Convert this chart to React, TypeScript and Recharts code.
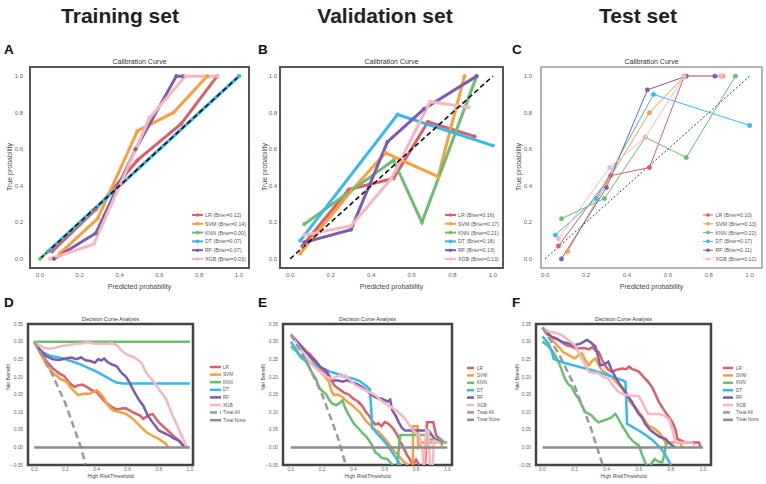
import React from 'react'
import { LineChart, Line, XAxis, YAxis, ReferenceArea } from 'recharts'

type Pt = [number, number]

const FONT = "'Liberation Sans', Arial, sans-serif"

const MODELS = ['LR', 'SVM', 'KNN', 'DT', 'RF', 'XGB']
const MODEL_COLORS = ['#d9606a', '#f7a03f', '#6bbd72', '#38b8ee', '#7a5cb0', '#f7b7c1']
const TREAT_ALL_COLOR = '#9a9a9a'
const TREAT_NONE_COLOR = '#8c8c8c'

const CAL_TICKS = [0, 0.2, 0.4, 0.6, 0.8, 1.0]
const DCA_X_TICKS = [0, 0.2, 0.4, 0.6, 0.8, 1.0]
const DCA_Y_TICKS = [-0.05, 0, 0.05, 0.1, 0.15, 0.2, 0.25, 0.3, 0.35]

const DIAGONAL: Pt[] = [[0, 0], [1, 1]]
const TREAT_NONE: Pt[] = [[0, 0], [1, 0]]

// ---- calibration curves: training
const trainBrier = ['0.12', '0.14', '0.00', '0.07', '0.07', '0.03']
const calTrainLR: Pt[] = [[0.06, 0.04], [0.28, 0.27], [0.49, 0.54], [0.71, 0.74], [0.89, 1.0]]
const calTrainSVM: Pt[] = [[0.1, 0.03], [0.29, 0.22], [0.49, 0.7], [0.67, 0.8], [0.84, 1.0]]
const calTrainKNN: Pt[] = [[0, 0], [1, 1]]
const calTrainDT: Pt[] = [[0.04, 0.04], [1, 1]]
const calTrainRF: Pt[] = [[0.07, 0.0], [0.28, 0.14], [0.48, 0.6], [0.685, 1.0], [0.72, 1.0]]
const calTrainXGB: Pt[] = [[0.05, 0.0], [0.27, 0.08], [0.55, 0.77], [0.73, 1.0], [0.89, 1.0]]

// ---- calibration curves: validation
const validBrier = ['0.16', '0.17', '0.21', '0.18', '0.13', '0.13']
const calValidLR: Pt[] = [[0.06, 0.07], [0.29, 0.38], [0.51, 0.44], [0.68, 0.75], [0.91, 0.67]]
const calValidSVM: Pt[] = [[0.05, 0.03], [0.3, 0.37], [0.47, 0.58], [0.73, 0.45], [0.86, 1.0]]
const calValidKNN: Pt[] = [[0.07, 0.19], [0.51, 0.54], [0.65, 0.2], [0.92, 1.0]]
const calValidDT: Pt[] = [[0.05, 0.1], [0.53, 0.79], [1.0, 0.62]]
const calValidRF: Pt[] = [[0.07, 0.09], [0.3, 0.16], [0.48, 0.64], [0.66, 0.82], [0.92, 1.0]]
const calValidXGB: Pt[] = [[0.07, 0.13], [0.3, 0.18], [0.5, 0.44], [0.69, 0.86], [0.88, 0.83]]

// ---- calibration curves: test
const testBrier = ['0.10', '0.13', '0.22', '0.17', '0.11', '0.12']
const calTestLR: Pt[] = [[0.065, 0.07], [0.32, 0.455], [0.51, 0.5], [0.68, 1.0], [0.86, 1.0]]
const calTestSVM: Pt[] = [[0.11, 0.04], [0.3, 0.415], [0.51, 0.8], [0.68, 1.0], [0.87, 1.0]]
const calTestKNN: Pt[] = [[0.08, 0.22], [0.29, 0.33], [0.49, 0.665], [0.69, 0.555], [0.93, 1.0]]
const calTestDT: Pt[] = [[0.05, 0.13], [0.25, 0.33], [0.53, 0.9], [1.0, 0.73]]
const calTestRF: Pt[] = [[0.08, 0.0], [0.3, 0.39], [0.5, 0.925], [0.69, 1.0], [0.83, 1.0]]
const calTestXGB: Pt[] = [[0.065, 0.11], [0.315, 0.5], [0.49, 0.665], [0.68, 1.0], [0.86, 1.0]]

// ---- decision curves: training
const dcaTrainLR: Pt[] = [[0, 0.3], [0.04, 0.271], [0.08, 0.243], [0.12, 0.224], [0.16, 0.21], [0.19, 0.203], [0.23, 0.181], [0.26, 0.171], [0.28, 0.176], [0.31, 0.178], [0.34, 0.171], [0.37, 0.162], [0.4, 0.157], [0.43, 0.142], [0.46, 0.127], [0.5, 0.114], [0.53, 0.107], [0.56, 0.11], [0.59, 0.111], [0.62, 0.103], [0.655, 0.095], [0.68, 0.09], [0.7, 0.081], [0.73, 0.09], [0.76, 0.095], [0.78, 0.083], [0.8, 0.071], [0.84, 0.055], [0.87, 0.043], [0.9, 0.03], [0.93, 0.019], [0.964, 0.003]]
const dcaTrainSVM: Pt[] = [[0, 0.3], [0.038, 0.267], [0.081, 0.233], [0.123, 0.21], [0.166, 0.195], [0.209, 0.186], [0.23, 0.172], [0.251, 0.162], [0.283, 0.148], [0.315, 0.152], [0.357, 0.152], [0.4, 0.162], [0.42, 0.155], [0.443, 0.143], [0.474, 0.119], [0.506, 0.105], [0.549, 0.1], [0.59, 0.095], [0.634, 0.081], [0.677, 0.062], [0.72, 0.043], [0.76, 0.033], [0.8, 0.024], [0.847, 0.01], [0.86, 0.0]]
const dcaTrainKNN: Pt[] = [[0, 0.3], [1.0, 0.3]]
const dcaTrainDT: Pt[] = [[0, 0.3], [0.03, 0.28], [0.06, 0.268], [0.1, 0.26], [0.15, 0.256], [0.2, 0.25], [0.25, 0.243], [0.3, 0.235], [0.35, 0.225], [0.4, 0.215], [0.45, 0.203], [0.5, 0.19], [0.53, 0.184], [0.57, 0.181], [0.6, 0.181], [1.0, 0.181]]
const dcaTrainRF: Pt[] = [[0, 0.3], [0.04, 0.275], [0.08, 0.258], [0.12, 0.25], [0.16, 0.248], [0.2, 0.252], [0.24, 0.255], [0.27, 0.25], [0.3, 0.255], [0.33, 0.247], [0.36, 0.245], [0.39, 0.24], [0.41, 0.25], [0.43, 0.247], [0.45, 0.252], [0.47, 0.242], [0.5, 0.235], [0.53, 0.23], [0.56, 0.212], [0.59, 0.2], [0.61, 0.186], [0.63, 0.168], [0.655, 0.148], [0.68, 0.13], [0.7, 0.119], [0.73, 0.09], [0.76, 0.071], [0.8, 0.048], [0.84, 0.04], [0.87, 0.033], [0.9, 0.025], [0.93, 0.019], [0.96, 0.003]]
const dcaTrainXGB: Pt[] = [[0, 0.3], [0.03, 0.29], [0.06, 0.283], [0.1, 0.28], [0.14, 0.283], [0.18, 0.288], [0.22, 0.29], [0.26, 0.293], [0.3, 0.295], [0.34, 0.298], [0.38, 0.295], [0.42, 0.294], [0.46, 0.293], [0.5, 0.295], [0.53, 0.29], [0.56, 0.275], [0.6, 0.262], [0.63, 0.258], [0.66, 0.25], [0.69, 0.24], [0.71, 0.22], [0.73, 0.205], [0.76, 0.19], [0.78, 0.18], [0.8, 0.165], [0.83, 0.148], [0.85, 0.135], [0.87, 0.11], [0.89, 0.09], [0.91, 0.07], [0.93, 0.05], [0.95, 0.03], [0.97, 0.012], [0.98, 0.0]]
const dcaTrainAll: Pt[] = [[0, 0.3], [0.1, 0.222], [0.2, 0.125], [0.3, 0.0], [0.33, -0.048]]

// ---- decision curves: validation
const dcaValidLR: Pt[] = [[0, 0.32], [0.04, 0.3], [0.08, 0.28], [0.12, 0.265], [0.16, 0.245], [0.2, 0.22], [0.23, 0.21], [0.26, 0.19], [0.28, 0.175], [0.31, 0.165], [0.34, 0.155], [0.37, 0.15], [0.4, 0.138], [0.43, 0.13], [0.46, 0.115], [0.48, 0.1], [0.5, 0.09], [0.52, 0.075], [0.54, 0.065], [0.56, 0.068], [0.58, 0.06], [0.6, 0.072], [0.62, 0.068], [0.64, 0.06], [0.66, 0.05], [0.68, 0.035], [0.7, 0.015], [0.72, 0.0], [0.74, -0.02], [0.755, -0.03], [0.78, -0.05], [0.8, -0.035], [0.82, -0.05], [0.84, -0.06], [0.86, -0.04], [0.87, 0.071], [0.91, 0.071], [0.93, 0.033], [0.98, 0.014]]
const dcaValidSVM: Pt[] = [[0, 0.32], [0.05, 0.295], [0.1, 0.272], [0.14, 0.245], [0.18, 0.22], [0.2, 0.21], [0.22, 0.2], [0.244, 0.186], [0.26, 0.16], [0.276, 0.148], [0.3, 0.15], [0.33, 0.143], [0.36, 0.129], [0.39, 0.12], [0.414, 0.11], [0.44, 0.1], [0.456, 0.09], [0.48, 0.075], [0.51, 0.062], [0.54, 0.05], [0.563, 0.043], [0.6, 0.025], [0.626, 0.01], [0.66, -0.01], [0.69, -0.024], [0.72, -0.04], [0.743, -0.048], [0.76, -0.06], [0.78, -0.06], [0.782, 0.06], [0.81, 0.06], [0.815, 0.0], [0.84, 0.014], [0.9, 0.014], [0.95, 0.014], [0.97, 0.005]]
const dcaValidKNN: Pt[] = [[0, 0.287], [0.03, 0.275], [0.06, 0.26], [0.096, 0.243], [0.12, 0.225], [0.138, 0.21], [0.16, 0.195], [0.18, 0.171], [0.2, 0.16], [0.223, 0.152], [0.245, 0.135], [0.265, 0.124], [0.29, 0.12], [0.31, 0.125], [0.33, 0.133], [0.345, 0.115], [0.36, 0.1], [0.38, 0.085], [0.4, 0.07], [0.414, 0.062], [0.44, 0.05], [0.46, 0.04], [0.478, 0.033], [0.5, 0.02], [0.52, 0.005], [0.54, -0.014], [0.56, -0.02], [0.58, -0.03], [0.616, -0.033], [0.64, -0.045], [0.66, -0.055], [0.68, -0.06], [0.69, 0.0], [0.7, 0.035], [0.8, 0.035], [0.87, 0.035], [0.88, 0.022], [0.95, 0.022], [0.97, 0.014], [1.0, 0.014]]
const dcaValidDT: Pt[] = [[0, 0.3], [0.03, 0.28], [0.064, 0.255], [0.1, 0.245], [0.15, 0.235], [0.2, 0.225], [0.25, 0.215], [0.3, 0.208], [0.35, 0.2], [0.4, 0.195], [0.44, 0.188], [0.48, 0.175], [0.505, 0.165], [0.515, 0.1], [0.52, 0.055], [0.55, 0.04], [0.584, 0.024], [0.62, 0.005], [0.648, -0.014], [0.68, -0.035], [0.7, -0.05], [0.72, -0.065]]
const dcaValidRF: Pt[] = [[0, 0.32], [0.03, 0.305], [0.06, 0.29], [0.096, 0.271], [0.12, 0.26], [0.14, 0.25], [0.16, 0.243], [0.19, 0.228], [0.223, 0.219], [0.25, 0.2], [0.276, 0.19], [0.3, 0.19], [0.33, 0.186], [0.36, 0.19], [0.39, 0.185], [0.42, 0.18], [0.456, 0.171], [0.49, 0.16], [0.52, 0.148], [0.55, 0.14], [0.58, 0.138], [0.605, 0.133], [0.62, 0.13], [0.635, 0.135], [0.648, 0.105], [0.67, 0.09], [0.69, 0.071], [0.71, 0.055], [0.73, 0.048], [0.8, 0.048], [0.88, 0.048], [0.9, 0.035], [0.92, 0.024], [0.95, 0.015], [0.966, 0.01]]
const dcaValidXGB: Pt[] = [[0, 0.32], [0.03, 0.3], [0.05, 0.285], [0.074, 0.271], [0.1, 0.255], [0.138, 0.233], [0.17, 0.22], [0.2, 0.21], [0.23, 0.2], [0.265, 0.195], [0.29, 0.2], [0.31, 0.205], [0.33, 0.2], [0.35, 0.205], [0.38, 0.19], [0.414, 0.176], [0.44, 0.17], [0.478, 0.162], [0.51, 0.155], [0.54, 0.148], [0.57, 0.135], [0.605, 0.124], [0.64, 0.115], [0.67, 0.105], [0.7, 0.095], [0.73, 0.081], [0.755, 0.065], [0.775, 0.052], [0.8, 0.04], [0.82, 0.033], [0.84, 0.0], [0.85, -0.06], [0.865, 0.05], [0.88, 0.045], [0.89, -0.06], [0.905, -0.06], [0.915, 0.02], [0.94, 0.015], [0.96, 0.01]]
const dcaValidAll: Pt[] = [[0, 0.32], [0.1, 0.244], [0.2, 0.15], [0.3, 0.029], [0.35, -0.048]]

// ---- decision curves: test
const dcaTestLR: Pt[] = [[0, 0.34], [0.02, 0.33], [0.0375, 0.324], [0.06, 0.31], [0.08, 0.31], [0.1, 0.305], [0.13, 0.295], [0.16, 0.288], [0.183, 0.286], [0.21, 0.28], [0.24, 0.282], [0.267, 0.281], [0.29, 0.278], [0.31, 0.285], [0.33, 0.275], [0.35, 0.271], [0.37, 0.25], [0.39, 0.233], [0.41, 0.22], [0.433, 0.214], [0.46, 0.22], [0.496, 0.224], [0.52, 0.222], [0.54, 0.229], [0.56, 0.222], [0.58, 0.219], [0.6, 0.215], [0.62, 0.205], [0.64, 0.195], [0.66, 0.185], [0.683, 0.171], [0.7, 0.155], [0.725, 0.129], [0.745, 0.115], [0.766, 0.1], [0.79, 0.085], [0.81, 0.071], [0.83, 0.05], [0.84, 0.024], [0.89, 0.014], [0.975, 0.014], [0.985, 0.0]]
const dcaTestSVM: Pt[] = [[0, 0.34], [0.0375, 0.319], [0.07, 0.3], [0.1, 0.286], [0.13, 0.27], [0.163, 0.262], [0.2, 0.252], [0.22, 0.26], [0.246, 0.267], [0.27, 0.245], [0.29, 0.233], [0.31, 0.245], [0.33, 0.252], [0.35, 0.235], [0.37, 0.219], [0.4, 0.21], [0.433, 0.2], [0.46, 0.185], [0.496, 0.167], [0.52, 0.15], [0.54, 0.133], [0.56, 0.12], [0.58, 0.114], [0.6, 0.1], [0.62, 0.09], [0.64, 0.075], [0.66, 0.062], [0.69, 0.055], [0.725, 0.043], [0.745, 0.03], [0.766, 0.014], [0.86, 0.014], [0.87, 0.0]]
const dcaTestKNN: Pt[] = [[0, 0.3], [0.03, 0.29], [0.058, 0.276], [0.08, 0.26], [0.1, 0.243], [0.12, 0.22], [0.14, 0.195], [0.16, 0.18], [0.183, 0.171], [0.2, 0.155], [0.225, 0.138], [0.245, 0.12], [0.267, 0.1], [0.29, 0.095], [0.308, 0.09], [0.33, 0.078], [0.35, 0.071], [0.38, 0.076], [0.41, 0.081], [0.43, 0.085], [0.454, 0.095], [0.475, 0.08], [0.496, 0.062], [0.52, 0.045], [0.54, 0.029], [0.57, 0.015], [0.6, 0.005], [0.62, -0.02], [0.64, -0.043], [0.66, -0.062], [0.68, -0.045], [0.7, -0.033], [0.72, -0.04], [0.746, -0.043], [0.76, -0.02], [0.77, 0.01], [0.79, 0.014]]
const dcaTestDT: Pt[] = [[0, 0.315], [0.0375, 0.295], [0.06, 0.27], [0.069, 0.252], [0.1, 0.245], [0.15, 0.238], [0.2, 0.232], [0.25, 0.226], [0.3, 0.22], [0.35, 0.213], [0.4, 0.206], [0.45, 0.198], [0.5, 0.19], [0.517, 0.186], [0.523, 0.12], [0.527, 0.067], [0.56, 0.058], [0.6, 0.048], [0.64, 0.036], [0.683, 0.022], [0.72, 0.005], [0.746, -0.008], [0.77, -0.025], [0.8, -0.05]]
const dcaTestRF: Pt[] = [[0, 0.34], [0.03, 0.322], [0.058, 0.314], [0.09, 0.308], [0.12, 0.3], [0.16, 0.295], [0.2, 0.29], [0.24, 0.295], [0.277, 0.305], [0.3, 0.298], [0.33, 0.286], [0.345, 0.26], [0.36, 0.233], [0.385, 0.235], [0.41, 0.243], [0.43, 0.22], [0.454, 0.2], [0.48, 0.18], [0.517, 0.157], [0.54, 0.14], [0.558, 0.129], [0.58, 0.11], [0.6, 0.095], [0.62, 0.085], [0.64, 0.067], [0.67, 0.05], [0.704, 0.038], [0.73, 0.03], [0.766, 0.024], [0.79, 0.012], [0.81, 0.005], [0.83, 0.0]]
const dcaTestXGB: Pt[] = [[0, 0.34], [0.0375, 0.329], [0.08, 0.325], [0.12, 0.319], [0.16, 0.305], [0.2, 0.29], [0.23, 0.265], [0.26, 0.24], [0.29, 0.214], [0.32, 0.212], [0.35, 0.21], [0.38, 0.2], [0.41, 0.195], [0.44, 0.175], [0.475, 0.157], [0.51, 0.15], [0.54, 0.148], [0.6, 0.145], [0.62, 0.13], [0.64, 0.11], [0.66, 0.095], [0.72, 0.095], [0.76, 0.09], [0.79, 0.08], [0.81, 0.05], [0.83, 0.014], [0.93, 0.014], [0.95, 0.005]]
const dcaTestAll: Pt[] = [[0, 0.34], [0.1, 0.267], [0.2, 0.175], [0.3, 0.057], [0.375, -0.05]]

interface Box { x: number; y: number; w: number; h: number }

const rows = (pts: Pt[]) => pts.map(([x, y]) => ({ x, y }))

const pos = (left: number, top: number): React.CSSProperties => ({ position: 'absolute', left, top, lineHeight: 1, whiteSpace: 'nowrap' })

function CenterText({ cx, cy, size, bold, color = '#333', rotate, children }: { cx: number; cy: number; size: number; bold?: boolean; color?: string; rotate?: boolean; children: React.ReactNode }) {
  return (
    <div style={{ ...pos(cx, cy), fontSize: size, fontWeight: bold ? 700 : 400, color, transform: `translate(-50%, -50%)${rotate ? ' rotate(-90deg)' : ''}` }}>
      {children}
    </div>
  )
}

interface LegendRow { label: string; color: string; dash?: string; marker?: boolean }

function LegendBox({ x, y, step, lineLen, width, fontSize, strokeWidth, items }: { x: number; y: number; step: number; lineLen: number; width: number; fontSize: number; strokeWidth: number; items: LegendRow[] }) {
  return (
    <svg style={{ position: 'absolute', left: x, top: y - 4 }} width={70} height={items.length * step + 8}>
      {items.map((it, i) => {
        const cy = 4 + i * step
        return (
          <g key={it.label}>
            <line x1={0} x2={lineLen} y1={cy} y2={cy} stroke={it.color} strokeWidth={strokeWidth} strokeDasharray={it.dash} />
            {it.marker && <circle cx={lineLen / 2} cy={cy} r={1.8} fill={it.color} />}
            <text x={lineLen + width} y={cy} fontSize={fontSize} fill="#555" dominantBaseline="central" fontFamily={FONT}>{it.label}</text>
          </g>
        )
      })}
    </svg>
  )
}

const tickStyle = (size: number) => ({ fontSize: size, fill: '#666', fontFamily: FONT })

function CalibrationPanel({ box, xDomain, series, thin, frame, yGap }: { box: Box; xDomain: [number, number]; series: Pt[][]; thin?: boolean; frame: string; yGap: number }) {
  const YW = 30
  const XH = 16
  const PAD = 8
  return (
    <div style={{ position: 'absolute', left: box.x - YW, top: box.y - PAD }}>
      <LineChart width={box.w + YW + 4} height={box.h + PAD + XH} margin={{ top: PAD, right: 4, bottom: 0, left: 0 }}>
        <XAxis type="number" dataKey="x" domain={xDomain} ticks={CAL_TICKS} tickFormatter={(v: number) => v.toFixed(1)} height={XH} tick={tickStyle(6)} tickSize={3} tickMargin={2} axisLine={false} tickLine={false} />
        <YAxis type="number" domain={[-0.05, 1.05]} ticks={CAL_TICKS} tickFormatter={(v: number) => v.toFixed(1)} width={YW} tick={tickStyle(6)} tickSize={yGap} tickMargin={2} axisLine={false} tickLine={false} />
        <ReferenceArea x1={xDomain[0]} x2={xDomain[1]} y1={-0.05} y2={1.05} fill="none" stroke={frame} strokeWidth={thin ? 1.5 : 2} />
        {series.map((pts, i) => (
          <Line
            key={MODELS[i]}
            data={rows(pts)}
            dataKey="y"
            type="linear"
            stroke={MODEL_COLORS[i]}
            strokeWidth={thin ? 1 : 3}
            dot={{ r: thin ? 2.2 : 1.8, fill: MODEL_COLORS[i], stroke: MODEL_COLORS[i], strokeWidth: 0.5 }}
            isAnimationActive={false}
          />
        ))}
        <Line data={rows(DIAGONAL)} dataKey="y" type="linear" stroke="#111" strokeWidth={thin ? 0.8 : 1.6} strokeDasharray={thin ? '2 2' : '5 3'} dot={false} isAnimationActive={false} />
      </LineChart>
    </div>
  )
}

function DcaPanel({ box, xDomain, series, treatAll }: { box: Box; xDomain: [number, number]; series: Pt[][]; treatAll: Pt[] }) {
  const YW = 26
  const XH = 12
  const PAD = 6
  const yFmt = (v: number) => (v < 0 ? '\u2212' : '') + Math.abs(v).toFixed(2)
  return (
    <div style={{ position: 'absolute', left: box.x - YW, top: box.y - PAD }}>
      <LineChart width={box.w + YW + 4} height={box.h + PAD + XH} margin={{ top: PAD, right: 4, bottom: 0, left: 0 }}>
        <XAxis type="number" dataKey="x" domain={xDomain} allowDataOverflow ticks={DCA_X_TICKS} tickFormatter={(v: number) => v.toFixed(1)} height={XH} tick={tickStyle(4.8)} tickSize={1} tickMargin={2} axisLine={false} tickLine={false} />
        <YAxis type="number" domain={[-0.05, 0.35]} allowDataOverflow ticks={DCA_Y_TICKS} tickFormatter={yFmt} width={YW} tick={tickStyle(4.8)} tickSize={3} tickMargin={2} axisLine={false} tickLine={false} />
        {series.map((pts, i) => (
          <Line key={MODELS[i]} data={rows(pts)} dataKey="y" type="linear" stroke={MODEL_COLORS[i]} strokeWidth={2.5} dot={false} isAnimationActive={false} />
        ))}
        <Line data={rows(treatAll)} dataKey="y" type="linear" stroke={TREAT_ALL_COLOR} strokeWidth={2.5} strokeDasharray="7 4" dot={false} isAnimationActive={false} />
        <Line data={rows(TREAT_NONE)} dataKey="y" type="linear" stroke={TREAT_NONE_COLOR} strokeWidth={2.5} dot={false} isAnimationActive={false} />
        <ReferenceArea x1={xDomain[0]} x2={xDomain[1]} y1={-0.05} y2={0.35} fill="none" stroke="#444" strokeWidth={2.5} />
      </LineChart>
    </div>
  )
}

const calLegend = (brier: string[]): LegendRow[] =>
  MODELS.map((m, i) => ({ label: `${m} (Brier=${brier[i]})`, color: MODEL_COLORS[i], marker: true }))

const dcaLegend: LegendRow[] = [
  ...MODELS.map((m, i) => ({ label: m, color: MODEL_COLORS[i] })),
  { label: 'Treat All', color: TREAT_ALL_COLOR, dash: '7 3' },
  { label: 'Treat None', color: TREAT_NONE_COLOR },
]

const calBoxes: Box[] = [
  { x: 30, y: 67, w: 219, h: 201 },
  { x: 280, y: 67, w: 223, h: 201 },
  { x: 541, y: 67, w: 221, h: 201 },
]
const dcaBoxes: Box[] = [
  { x: 28, y: 324, w: 165, h: 141 },
  { x: 283, y: 324, w: 169, h: 141 },
  { x: 536, y: 324, w: 175, h: 141 },
]

export default function App() {
  const headers = [
    { text: 'Training set', cx: 120 },
    { text: 'Validation set', cx: 385 },
    { text: 'Test set', cx: 638 },
  ]
  return (
    <div style={{ position: 'absolute', left: 0, top: 0, width: 766, height: 484, background: '#fff', fontFamily: FONT, overflow: 'hidden' }}>
      {headers.map((h) => (
        <CenterText key={h.text} cx={h.cx} cy={15} size={21} bold color="#222">{h.text}</CenterText>
      ))}
      {['A', 'B', 'C'].map((l, i) => (
        <div key={l} style={{ ...pos([4, 258, 512][i], 43), fontSize: 13.5, fontWeight: 700, color: '#111' }}>{l}</div>
      ))}
      {['D', 'E', 'F'].map((l, i) => (
        <div key={l} style={{ ...pos([4, 258, 512][i], 296), fontSize: 13.5, fontWeight: 700, color: '#111' }}>{l}</div>
      ))}

      <CalibrationPanel box={calBoxes[0]} xDomain={[-0.05, 1.05]} frame="#555" yGap={5} series={[calTrainLR, calTrainSVM, calTrainKNN, calTrainDT, calTrainRF, calTrainXGB]} />
      <CalibrationPanel box={calBoxes[1]} xDomain={[-0.05, 1.05]} frame="#555" yGap={1} series={[calValidLR, calValidSVM, calValidKNN, calValidDT, calValidRF, calValidXGB]} />
      <CalibrationPanel box={calBoxes[2]} xDomain={[-0.02, 1.06]} frame="#9a9a9a" yGap={7} thin series={[calTestLR, calTestSVM, calTestKNN, calTestDT, calTestRF, calTestXGB]} />

      {calBoxes.map((b, i) => (
        <React.Fragment key={i}>
          <CenterText cx={b.x + b.w / 2} cy={61} size={7}>Calibration Curve</CenterText>
          <CenterText cx={b.x + b.w / 2} cy={286} size={7} color="#444">Predicted probability</CenterText>
          <CenterText cx={[9, 264, 518][i]} cy={167} size={7} color="#444" rotate>True probability</CenterText>
        </React.Fragment>
      ))}
      <LegendBox x={192} y={215} step={8.8} lineLen={11} width={2} fontSize={5.3} strokeWidth={2} items={calLegend(trainBrier)} />
      <LegendBox x={445} y={215} step={8.8} lineLen={11} width={2} fontSize={5.3} strokeWidth={2} items={calLegend(validBrier)} />
      <LegendBox x={703} y={215} step={8.8} lineLen={10} width={2.5} fontSize={5.3} strokeWidth={1} items={calLegend(testBrier)} />

      <DcaPanel box={dcaBoxes[0]} xDomain={[-0.04, 1.02]} treatAll={dcaTrainAll} series={[dcaTrainLR, dcaTrainSVM, dcaTrainKNN, dcaTrainDT, dcaTrainRF, dcaTrainXGB]} />
      <DcaPanel box={dcaBoxes[1]} xDomain={[-0.05, 1.03]} treatAll={dcaValidAll} series={[dcaValidLR, dcaValidSVM, dcaValidKNN, dcaValidDT, dcaValidRF, dcaValidXGB]} />
      <DcaPanel box={dcaBoxes[2]} xDomain={[-0.04, 1.05]} treatAll={dcaTestAll} series={[dcaTestLR, dcaTestSVM, dcaTestKNN, dcaTestDT, dcaTestRF, dcaTestXGB]} />

      {dcaBoxes.map((b, i) => (
        <React.Fragment key={i}>
          <CenterText cx={b.x + b.w / 2} cy={320} size={5.3}>Decision Curve Analysis</CenterText>
          <CenterText cx={b.x + b.w / 2} cy={477} size={5.3} color="#444">High RiskThreshold</CenterText>
          <CenterText cx={[9, 264, 517.5][i]} cy={377} size={5.3} color="#444" rotate>Net Benefit</CenterText>
        </React.Fragment>
      ))}
      <LegendBox x={210} y={367} step={7.6} lineLen={11} width={2} fontSize={4.6} strokeWidth={2.5} items={dcaLegend} />
      <LegendBox x={467} y={368} step={7.4} lineLen={7} width={3} fontSize={4.6} strokeWidth={2.5} items={dcaLegend} />
      <LegendBox x={723} y={368} step={7.4} lineLen={10} width={3} fontSize={4.6} strokeWidth={2.5} items={dcaLegend} />
    </div>
  )
}
